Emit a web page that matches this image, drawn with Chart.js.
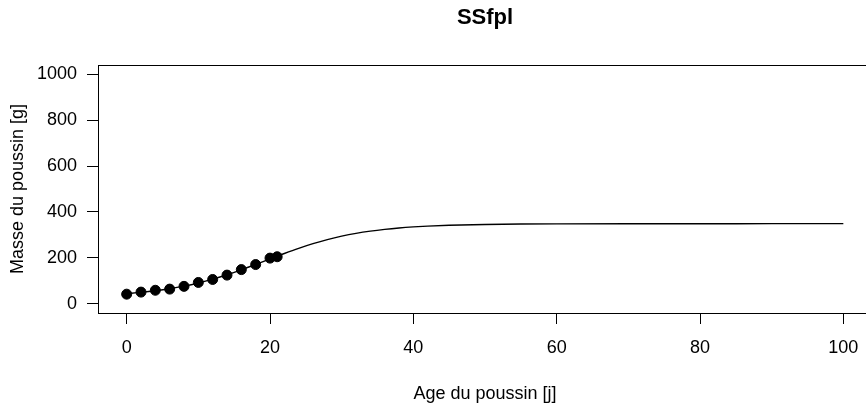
<!DOCTYPE html>
<html>
<head>
<meta charset="utf-8">
<script src="https://cdn.jsdelivr.net/npm/chart.js@4/dist/chart.umd.min.js"></script>
<style>
  html, body { margin: 0; padding: 0; background: #fff; overflow: hidden; }
  #wrap { width: 880px; height: 407px; }
</style>
</head>
<body>
<div id="wrap"><canvas id="c" width="880" height="407" style="width:880px;height:407px"></canvas></div>
<script>
// Observed data (Chick 1)
const ageDays   = [0, 2, 4, 6, 8, 10, 12, 14, 16, 18, 20, 21];
const massGrams = [42, 51, 59, 64, 76, 93, 106, 125, 149, 171, 199, 205];

// Fitted curve (SSfpl)
const curveAge  = [0, 2, 4, 6, 8, 10, 12, 14, 16, 18, 20, 22, 24, 26, 28, 30, 32, 34, 36, 38, 40, 42, 45, 50, 55, 60, 70, 80, 90, 100];
const curveMass = [44.1, 49.6, 56.6, 65.5, 76.8, 90.7, 107.3, 126.6, 148.2, 171.5, 195.5, 219.2, 241.6, 261.9, 279.6, 294.5, 306.8, 316.6, 324.3, 330.4, 335.0, 338.5, 342.2, 345.7, 347.4, 348.2, 348.8, 348.9, 349.0, 349.0];

// Tick labels
const xTicks = [0, 20, 40, 60, 80, 100];
const yTicks = [0, 200, 400, 600, 800, 1000];

const FONT = '"Liberation Sans", Arial, Helvetica, sans-serif';

const boxPlugin = {
  id: 'box',
  afterDraw(chart) {
    const a = chart.chartArea, ctx = chart.ctx;
    ctx.save();
    ctx.strokeStyle = '#000';
    ctx.lineWidth = 1;
    ctx.strokeRect(Math.round(a.left) + 0.5, Math.round(a.top) + 0.5,
                   Math.round(a.right - a.left), Math.round(a.bottom - a.top));
    ctx.restore();
  }
};

new Chart(document.getElementById('c'), {
  type: 'scatter',
  data: {
    datasets: [
      {
        label: 'Chick 1',
        data: ageDays.map((x, i) => ({ x: x, y: massGrams[i] })),
        backgroundColor: '#000',
        borderColor: '#000',
        pointRadius: 5,
        pointHoverRadius: 5,
        showLine: false
      },
      {
        label: 'SSfpl',
        type: 'line',
        data: curveAge.map((x, i) => ({ x: x, y: curveMass[i] })),
        borderColor: '#000',
        borderWidth: 1.4,
        pointRadius: 0,
        fill: false,
        cubicInterpolationMode: 'monotone'
      }
    ]
  },
  options: {
    responsive: false,
    devicePixelRatio: 1,
    animation: false,
    layout: { padding: { left: 0, right: 8, top: 0, bottom: 0 } },
    plugins: {
      legend: { display: false },
      tooltip: { enabled: false },
      title: {
        display: true,
        text: 'SSfpl',
        fullSize: false,
        color: '#000',
        font: { family: FONT, size: 22, weight: 'bold', lineHeight: 1.2 },
        padding: { top: 5, bottom: 33.6 }
      }
    },
    scales: {
      x: {
        type: 'linear',
        min: -4, max: 104,
        afterBuildTicks: s => { s.ticks = xTicks.map(v => ({ value: v })); },
        afterFit: s => { s.height = 94; },
        border: { display: false },
        grid: { display: true, drawOnChartArea: false, drawTicks: true, tickLength: 11, color: '#000', lineWidth: 1 },
        ticks: { color: '#000', padding: 13, maxRotation: 0, autoSkip: false,
                 font: { family: FONT, size: 18 }, callback: v => String(v) },
        title: { display: true, text: 'Age du poussin [j]', color: '#000',
                 font: { family: FONT, size: 18, lineHeight: 1.2 }, padding: { top: 0, bottom: 2 } }
      },
      y: {
        type: 'linear',
        min: -40, max: 1040,
        afterBuildTicks: s => { s.ticks = yTicks.map(v => ({ value: v })); },
        afterFit: s => { s.width = 98; },
        border: { display: false },
        grid: { display: true, drawOnChartArea: false, drawTicks: true, tickLength: 11, color: '#000', lineWidth: 1 },
        ticks: { color: '#000', padding: 10, autoSkip: false,
                 font: { family: FONT, size: 18 }, callback: v => String(v) },
        title: { display: true, text: 'Masse du poussin [g]', color: '#000',
                 font: { family: FONT, size: 18, lineHeight: 1.2 }, padding: { top: 7, bottom: 0 } }
      }
    }
  },
  plugins: [boxPlugin]
});
</script>
</body>
</html>
